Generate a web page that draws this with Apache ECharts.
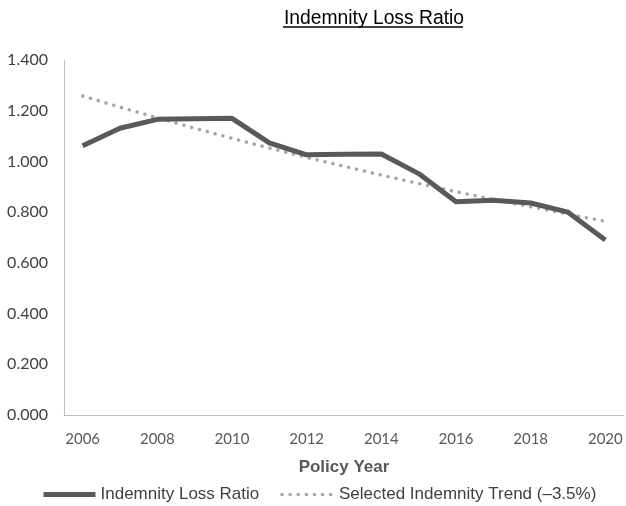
<!DOCTYPE html>
<html>
<head>
<meta charset="utf-8">
<script src="https://cdn.jsdelivr.net/npm/echarts@6/dist/echarts.min.js"></script>
<style>
	html, body { margin: 0; padding: 0; background: #fff; }
	#chart { width: 626px; height: 506px; }
</style>
</head>
<body>
<div id="chart"></div>
<script>
const years = ['2006', '2007', '2008', '2009', '2010', '2011', '2012', '2013', '2014', '2015', '2016', '2017', '2018', '2019', '2020']
const lossRatio = [1.062, 1.131, 1.166, 1.168, 1.170, 1.073, 1.026, 1.028, 1.029, 0.952, 0.841, 0.847, 0.836, 0.800, 0.690]
const trend = [1.258, 1.214, 1.172, 1.131, 1.091, 1.053, 1.016, 0.981, 0.946, 0.913, 0.881, 0.850, 0.821, 0.792, 0.764]
const yTicks = { min: 0, max: 1.4, interval: 0.2 }

const lossName = 'Indemnity Loss Ratio'
const trendName = 'Selected Indemnity Trend (\u20133.5%)'

const lossLine = { color: '#595959', width: 5, join: 'round' }
const trendLine = { color: '#a6a6a6', width: 3.5, type: [0.1, 8], cap: 'round' }

const chart = echarts.init(document.getElementById('chart'))

const option = {
	animation: false,
	title: {
		text: 'Indemnity Loss Ratio',
		left: 369,
		top: 4,
		textAlign: 'center',
		textStyle: {
			fontFamily: 'Liberation Sans',
			fontSize: 19.3,
			fontWeight: 'normal',
			color: '#000'
		}
	},
	// underline for the title
	graphic: [{
		type: 'line',
		shape: { x1: 283, y1: 27, x2: 463, y2: 27 },
		style: { stroke: '#000', lineWidth: 1.3 }
	}],
	grid: { left: 64, right: 2, top: 60, bottom: 91, containLabel: false },
	legend: {
		left: 36,
		top: 481,
		itemWidth: 52,
		itemHeight: 14,
		itemGap: 21,
		textStyle: { fontFamily: 'Liberation Sans', fontSize: 17, color: '#404040' },
		data: [
			{ name: lossName, lineStyle: lossLine, itemStyle: { opacity: 0 } },
			{ name: trendName, lineStyle: trendLine, itemStyle: { opacity: 0 } }
		]
	},
	xAxis: {
		type: 'category',
		data: years,
		boundaryGap: true,
		name: 'Policy Year',
		nameLocation: 'middle',
		nameGap: 44,
		nameTextStyle: { fontFamily: 'Liberation Sans', fontSize: 17, fontWeight: 'bold', color: '#595959' },
		axisLine: { lineStyle: { color: '#bfbfbf', width: 1 } },
		axisTick: { show: false },
		axisLabel: {
			interval: 1,
			margin: 17,
			fontFamily: 'Lato',
			fontSize: 15,
			color: '#595959'
		},
		splitLine: { show: false }
	},
	yAxis: {
		type: 'value',
		min: yTicks.min,
		max: yTicks.max,
		interval: yTicks.interval,
		axisLine: { show: true, lineStyle: { color: '#bfbfbf', width: 1 } },
		axisTick: { show: false },
		axisLabel: {
			margin: 16,
			fontFamily: 'Lato',
			fontSize: 16,
			color: '#404040',
			formatter: v => v.toFixed(3)
		},
		splitLine: { show: false }
	},
	series: [
		{
			name: lossName,
			type: 'line',
			data: lossRatio,
			symbol: 'none',
			lineStyle: lossLine,
			itemStyle: { color: '#595959' },
			z: 3
		},
		{
			name: trendName,
			type: 'line',
			data: trend,
			symbol: 'none',
			lineStyle: trendLine,
			itemStyle: { color: '#a6a6a6' },
			z: 2
		}
	]
}

chart.setOption(option)
</script>
</body>
</html>
